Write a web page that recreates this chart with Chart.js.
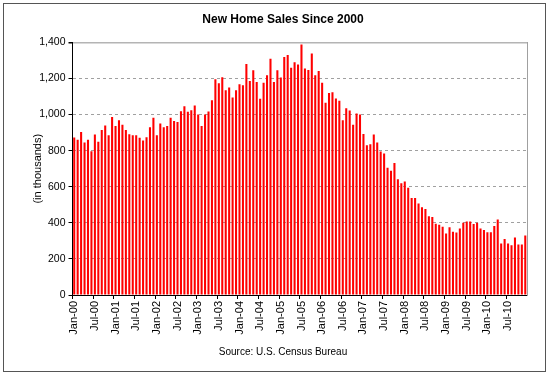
<!DOCTYPE html>
<html>
<head>
<meta charset="utf-8">
<title>New Home Sales Since 2000</title>
<script src="https://cdn.jsdelivr.net/npm/chart.js@4.4.0/dist/chart.umd.min.js"></script>
<style>
  body { margin: 0; background: #fff; }
  #wrap { position: relative; width: 550px; height: 377px; }
  #frame { position: absolute; left: 3px; top: 3px; width: 541px; height: 367px; border: 1px solid #555; pointer-events: none; }
</style>
</head>
<body>
<div id="wrap">
  <canvas id="salesChart" width="550" height="377"></canvas>
  <div id="frame"></div>
</div>
<script>
// 월별 신규 주택 판매 (천 단위)
const monthNames = ["Jan", "Feb", "Mar", "Apr", "May", "Jun", "Jul", "Aug", "Sep", "Oct", "Nov", "Dec"];
const yearLabels = ["00", "01", "02", "03", "04", "05", "06", "07", "08", "09", "10"];

const sales2000 = [873, 860, 904, 845, 860, 797, 889, 850, 915, 939, 886, 987];
const sales2001 = [937, 969, 943, 915, 891, 886, 886, 871, 856, 875, 930, 983];
const sales2002 = [886, 950, 930, 937, 983, 965, 959, 1018, 1046, 1015, 1024, 1050];
const sales2003 = [1000, 937, 1000, 1017, 1079, 1196, 1173, 1207, 1135, 1150, 1094, 1135];
const sales2004 = [1168, 1162, 1280, 1186, 1245, 1181, 1088, 1177, 1218, 1310, 1181, 1245];
const sales2005 = [1205, 1319, 1330, 1260, 1290, 1277, 1389, 1255, 1247, 1338, 1218, 1242];
const sales2006 = [1177, 1065, 1120, 1124, 1089, 1076, 969, 1035, 1022, 943, 1006, 1000];
const sales2007 = [893, 830, 836, 889, 845, 795, 784, 705, 688, 732, 642, 620];
const sales2008 = [629, 594, 537, 537, 507, 487, 476, 437, 432, 395, 389, 378];
const sales2009 = [341, 375, 350, 346, 369, 400, 408, 408, 394, 400, 369, 360];
const sales2010 = [348, 348, 383, 418, 286, 310, 286, 276, 319, 280, 280, 330];

const yTicks = [0, 200, 400, 600, 800, 1000, 1200, 1400];

// 라벨/데이터 합치기
const monthLabels = [];
yearLabels.forEach(y => monthNames.forEach(m => monthLabels.push(m + "-" + y)));
const sales = [].concat(sales2000, sales2001, sales2002, sales2003, sales2004, sales2005,
  sales2006, sales2007, sales2008, sales2009, sales2010);

Chart.defaults.font.family = "'Liberation Sans', Arial, sans-serif";
Chart.defaults.color = "#000";

const ctx = document.getElementById("salesChart").getContext("2d");
new Chart(ctx, {
  type: "bar",
  data: {
    labels: monthLabels,
    datasets: [{
      label: "New Home Sales",
      data: sales,
      backgroundColor: "#ff0000",
      barPercentage: 0.6,
      categoryPercentage: 1.0
    }]
  },
  options: {
    responsive: false,
    animation: false,
    layout: { padding: { left: 27, right: 11, top: 0, bottom: 0 } },
    plugins: {
      legend: { display: false },
      tooltip: { enabled: false },
      title: {
        display: true,
        text: "New Home Sales Since 2000",
        font: { size: 12, weight: "bold" },
        padding: { top: 12, bottom: 16 }
      },
      subtitle: {
        display: true,
        position: "bottom",
        text: "Source: U.S. Census Bureau",
        font: { size: 10 },
        padding: { top: 6, bottom: 19 }
      }
    },
    scales: {
      x: {
        grid: {
          drawOnChartArea: false,
          tickLength: 4,
          tickColor: c => c.index % 6 === 0 ? "#000" : "rgba(0,0,0,0)"
        },
        border: { color: "#000" },
        ticks: {
          autoSkip: false,
          maxRotation: 90,
          minRotation: 90,
          padding: 2,
          font: { size: 11 },
          callback: (v, i) => i % 6 === 0 ? monthLabels[i] : ""
        },
        afterFit: s => { s.height = 45; }
      },
      y: {
        min: yTicks[0],
        max: yTicks[yTicks.length - 1],
        afterBuildTicks: s => { s.ticks = yTicks.map(v => ({ value: v })); },
        ticks: {
          padding: 3,
          font: { size: 10.5 },
          callback: v => v.toLocaleString("en-US")
        },
        grid: {
          color: c => c.tick.value === 0 ? "rgba(0,0,0,0)" : (c.tick.value === 1400 ? "#b4b4b4" : "#a0a0a0"),
          lineWidth: c => c.tick.value === 1400 ? 1.5 : 1,
          tickLength: 4,
          tickColor: "#000"
        },
        border: {
          color: "#000",
          dash: c => (c.type === "tick" && c.tick.value !== 1400) ? [3, 3] : []
        },
        title: {
          display: true,
          text: "(in thousands)",
          font: { size: 11 },
          padding: { top: 4, bottom: 4 }
        },
        afterFit: s => { s.width = 45.5; }
      },
      y2: {
        position: "right",
        min: 0,
        max: 1400,
        ticks: { display: false },
        grid: { display: false, drawTicks: false },
        border: { display: true, color: "#a0a0a0" },
        afterFit: s => { s.width = 12; }
      }
    }
  }
});
</script>
</body>
</html>
